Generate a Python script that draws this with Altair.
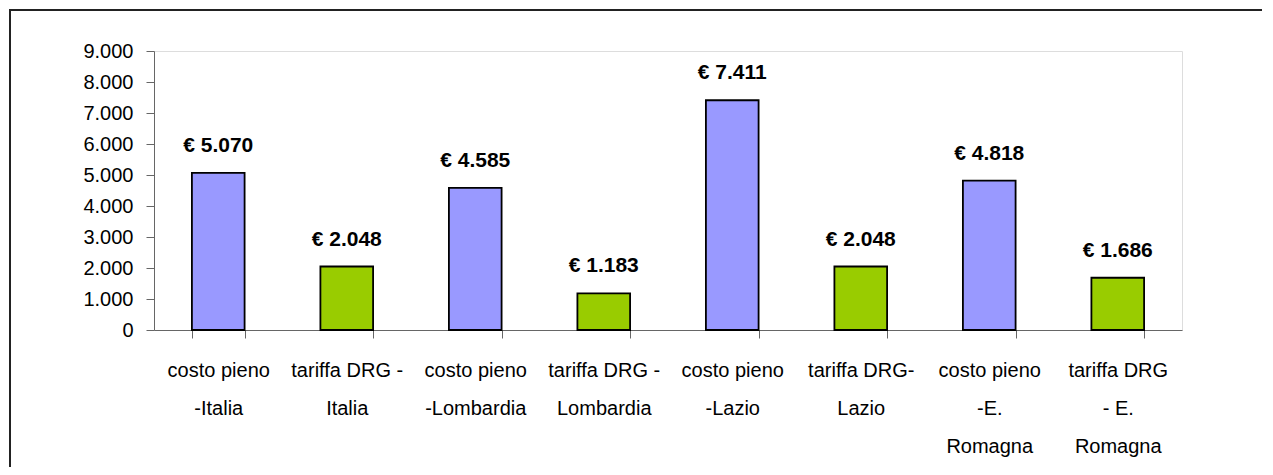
import altair as alt
import pandas as pd

categorie = [
    "costo pieno|-Italia",
    "tariffa DRG -|Italia",
    "costo pieno|-Lombardia",
    "tariffa DRG -|Lombardia",
    "costo pieno|-Lazio",
    "tariffa DRG-|Lazio",
    "costo pieno|-E.|Romagna",
    "tariffa DRG|- E.|Romagna",
]
tipi = ["costo", "tariffa", "costo", "tariffa", "costo", "tariffa", "costo", "tariffa"]
valori = [5070, 2048, 4585, 1183, 7411, 2048, 4818, 1686]

df = pd.DataFrame({"cat": categorie, "tipo": tipi, "valore": valori})

FONT = "Liberation Sans"
W, H = 1028, 279

x = alt.X(
    "cat:N",
    sort=None,
    scale=alt.Scale(paddingInner=0.59, paddingOuter=0.295),
    axis=alt.Axis(
        title=None,
        labelAngle=0,
        labelExpr="split(datum.label, '|')",
        labelFont=FONT,
        labelFontSize=20,
        labelColor="#000000",
        labelLineHeight=38,
        labelPadding=22,
        labelLimit=200,
        tickBand="extent",
        tickSize=8,
        tickColor="#666666",
        domainColor="#666666",
        grid=False,
    ),
)
y = alt.Y(
    "valore:Q",
    scale=alt.Scale(domain=[0, 9000], nice=False),
    axis=alt.Axis(
        title=None,
        values=list(range(0, 9001, 1000)),
        labelExpr="replace(format(datum.value, ',d'), ',', '.')",
        labelFont=FONT,
        labelFontSize=20,
        labelColor="#000000",
        labelPadding=13,
        tickSize=8,
        tickColor="#666666",
        domainColor="#666666",
        grid=False,
    ),
)

bars = alt.Chart(df).mark_bar(stroke="#000000", strokeWidth=1.8).encode(
    x=x,
    y=y,
    color=alt.Color(
        "tipo:N",
        scale=alt.Scale(domain=["costo", "tariffa"], range=["#9999FF", "#99CC00"]),
        legend=None,
    ),
)

testo = alt.Chart(df).transform_calculate(
    etichetta="'€ ' + replace(format(datum.valore, ',d'), ',', '.')"
).mark_text(
    font=FONT, fontSize=21, fontWeight="bold", baseline="middle", dy=-27, color="#000000"
).encode(x=x, y=y, text="etichetta:N")

base_frame = alt.Chart(pd.DataFrame({"a": [0]}))
bordo_sup = base_frame.mark_rule(stroke="#222222", strokeWidth=2).encode(
    x=alt.value(-145), x2=alt.value(1108), y=alt.value(-41)
)
bordo_sin = base_frame.mark_rule(stroke="#222222", strokeWidth=2).encode(
    x=alt.value(-144), y=alt.value(-42), y2=alt.value(416)
)

chart = alt.layer(bordo_sup, bordo_sin, bars, testo).properties(
    width=W,
    height=H,
    autosize=alt.AutoSizeParams(type="none"),
    padding={"left": 146, "top": 43, "right": 83, "bottom": 137},
).configure_view(stroke=None).configure(background="#ffffff")

chart.save("out.html", embed_options={"renderer": "svg", "actions": False})
